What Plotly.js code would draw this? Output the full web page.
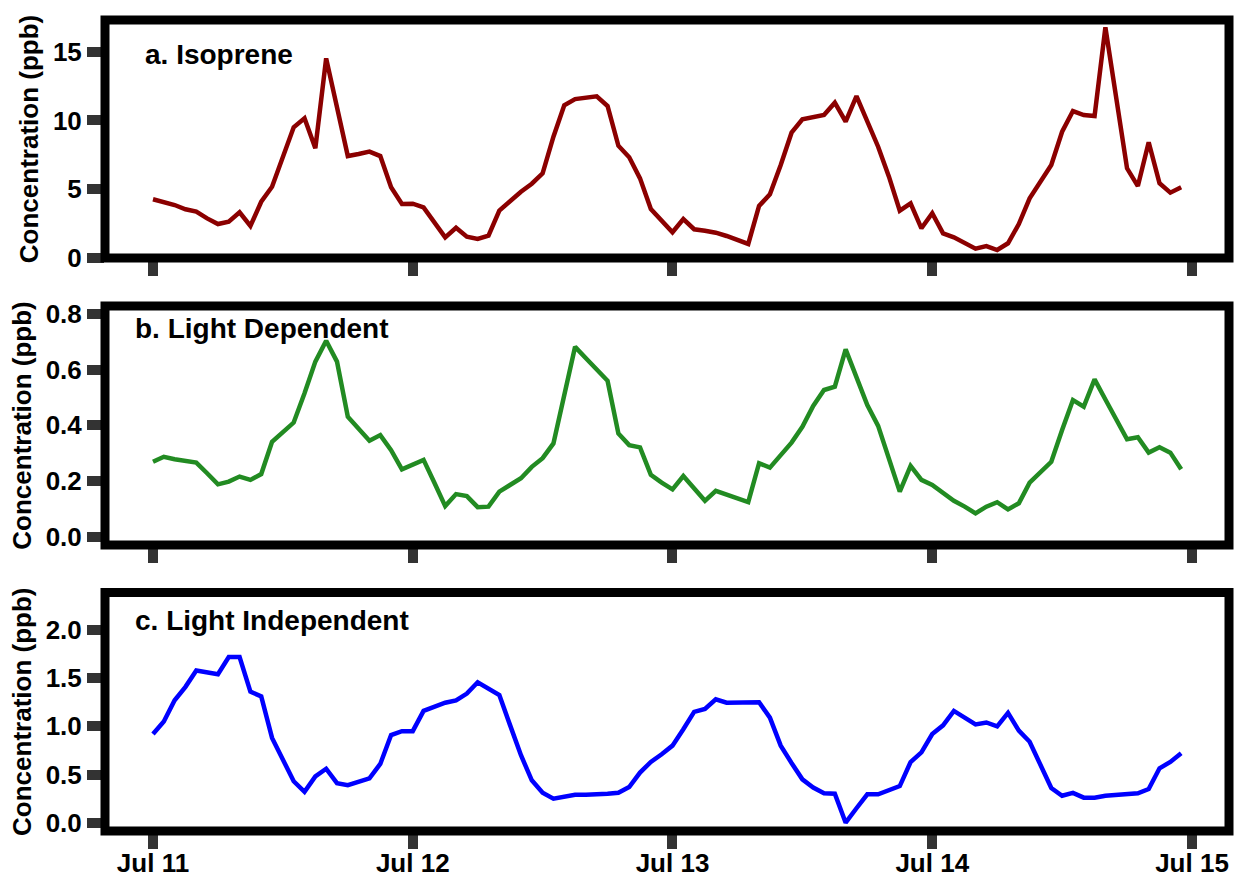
<!DOCTYPE html>
<html>
<head>
<meta charset="utf-8">
<script src="https://cdn.plot.ly/plotly-3.0.1.min.js"></script>
<style>html,body{margin:0;padding:0;background:#fff;}#chart{width:1235px;height:879px;}</style>
</head>
<body>
<div id="chart"></div>
<script>
// hours after Jul 11 00:00
const hours = [0,1,2,3,4,5,6,7,8,9,10,11,12,13,14,15,16,17,18,19,20,21,22,23,
  24,25,26,27,28,29,30,31,32,33,34,35,36,37,38,39,40,41,42,43,44,45,46,47,
  48,49,50,51,52,53,54,55,56,57,58,59,60,61,62,63,64,65,66,67,68,69,70,71,
  72,73,74,75,76,77,78,79,80,81,82,83,84,85,86,87,88,89,90,91,92,93,94,95];

const isoprene = [4.27,4.09,3.85,3.54,3.37,2.88,2.47,2.64,3.32,2.33,4.09,5.18,7.36,9.5,10.15,7.97,14.51,11.0,7.41,7.56,7.73,7.41,5.14,3.92,
  3.95,3.68,2.59,1.50,2.20,1.55,1.38,1.62,3.44,4.14,4.82,5.40,6.15,8.82,11.1,11.55,11.68,11.75,11.05,8.16,7.32,5.79,3.56,2.71,
  1.87,2.83,2.09,1.98,1.84,1.60,1.31,1.02,3.78,4.63,6.76,9.11,10.08,10.22,10.39,11.29,9.91,11.77,10.03,8.09,5.91,3.44,3.97,2.16,
  3.25,1.79,1.50,1.11,0.68,0.87,0.58,1.07,2.47,4.34,5.55,6.76,9.18,10.68,10.39,10.32,16.77,11.65,6.52,5.23,8.41,5.43,4.75,5.14];

const lightDependent = [0.269,0.287,0.278,0.273,0.266,0.228,0.188,0.198,0.216,0.204,0.225,0.341,0.377,0.41,0.515,0.629,0.704,0.629,0.431,0.389,0.345,0.365,0.311,0.242,
  0.26,0.276,0.194,0.110,0.153,0.146,0.106,0.108,0.162,0.186,0.21,0.251,0.282,0.335,0.509,0.682,0.641,0.599,0.56,0.371,0.329,0.321,0.222,0.194,
  0.170,0.218,0.174,0.129,0.165,0.152,0.138,0.124,0.264,0.248,0.293,0.338,0.395,0.47,0.527,0.539,0.673,0.573,0.473,0.398,0.282,0.162,0.254,0.204,
  0.186,0.156,0.129,0.108,0.084,0.108,0.124,0.098,0.12,0.194,0.233,0.269,0.383,0.491,0.467,0.565,0.493,0.422,0.35,0.357,0.302,0.321,0.302,0.242];

const lightIndependent = [0.92,1.05,1.27,1.41,1.58,1.56,1.54,1.72,1.72,1.36,1.31,0.88,0.65,0.43,0.32,0.48,0.56,0.41,0.39,0.43,0.46,0.61,0.91,0.95,
  0.95,1.16,1.20,1.245,1.27,1.34,1.457,1.39,1.325,1.01,0.70,0.44,0.31,0.25,0.27,0.29,0.29,0.29,0.30,0.31,0.37,0.52,0.63,0.71,
  0.80,0.97,1.15,1.18,1.28,1.245,1.25,1.25,1.25,1.09,0.80,0.62,0.45,0.365,0.305,0.30,0.0,0.15,0.295,0.295,0.34,0.38,0.63,0.73,
  0.92,1.01,1.16,1.09,1.02,1.04,1.00,1.14,0.955,0.84,0.60,0.36,0.28,0.31,0.26,0.26,0.28,0.29,0.305,0.305,0.35,0.565,0.63,0.72];

const panelLabels = ['a. Isoprene', 'b. Light Dependent', 'c. Light Independent'];
const xTickDays = ['2013-07-11', '2013-07-12', '2013-07-13', '2013-07-14', '2013-07-15'];

const DAY = 86400000, HOUR = 3600000;
const base = Date.UTC(2013, 6, 11);
const times = hours.map(h => base + h * HOUR);
const xTickVals = xTickDays.map(d => Date.parse(d + 'T00:00:00Z'));

const W_ = 1235, H_ = 879;
const L = 105, R = 6, T = 20, B = 48;
const PW = W_ - L - R, PH = H_ - T - B;
const dom = (top, bottom) => [(T + PH - bottom) / PH, (T + PH - top) / PH];
const px2x = px => (px - L) / PW;
const px2y = py => (T + PH - py) / PH;

const domA = dom(20, 258), domB = dom(306, 545), domC = dom(592.5, 831);
const xRange = [base - 0.18479 * DAY, base + 4.1425 * DAY];

const FONT = 'Liberation Sans, Arial, Helvetica, sans-serif';
const tickFont = {family: FONT, size: 26, color: '#000', weight: 700};

function xax(showLabels, anchor) {
  return {
    type: 'date', range: xRange, anchor: anchor, domain: [0, 1],
    tickmode: 'array', tickvals: xTickVals, tickformat: '%b %d',
    showticklabels: showLabels, ticks: 'outside', ticklen: 17, tickwidth: 10, tickcolor: '#333',
    ticklabelstandoff: -8,
    showgrid: false, zeroline: false, showline: false, tickfont: tickFont
  };
}
function yax(domain, range, dtick, fmt, anchor) {
  return {
    domain: domain, range: range, anchor: anchor, dtick: dtick, tick0: 0, tickformat: fmt,
    ticks: 'outside', ticklen: 17, tickwidth: 10, tickcolor: '#333',
    showgrid: false, zeroline: false, showline: false, tickfont: tickFont,
    title: {text: 'Concentration (ppb)', font: {family: FONT, size: 26, color: '#000', weight: 700}, standoff: 6}
  };
}

const traces = [
  {x: times, y: isoprene, xaxis: 'x', yaxis: 'y', mode: 'lines', line: {color: '#8B0000', width: 4.5}},
  {x: times, y: lightDependent, xaxis: 'x2', yaxis: 'y2', mode: 'lines', line: {color: '#228B22', width: 4.5}},
  {x: times, y: lightIndependent, xaxis: 'x3', yaxis: 'y3', mode: 'lines', line: {color: '#0000FF', width: 4.5}}
];

const frame = d => ({type: 'rect', xref: 'paper', yref: 'paper', x0: 0, x1: 1, y0: d[0], y1: d[1],
  line: {color: '#000', width: 9}, fillcolor: 'rgba(0,0,0,0)', layer: 'above'});

const annFont = {family: FONT, size: 28, color: '#000', weight: 700};
const layout = {
  width: W_, height: H_, showlegend: false,
  paper_bgcolor: '#fff', plot_bgcolor: '#fff',
  margin: {l: L, r: R, t: T, b: B, pad: 0},
  xaxis: xax(false, 'y'),
  xaxis2: xax(false, 'y2'),
  xaxis3: xax(true, 'y3'),
  yaxis: yax(domA, [0, 17.3], 5, 'd', 'x'),
  yaxis2: yax(domB, [-0.0298, 0.8287], 0.2, '.1f', 'x2'),
  yaxis3: yax(domC, [-0.0861, 2.389], 0.5, '.1f', 'x3'),
  shapes: [frame(domA), frame(domB), frame(domC)],
  annotations: [
    {text: panelLabels[0], xref: 'paper', yref: 'paper', x: px2x(143), y: px2y(54), xanchor: 'left', yanchor: 'middle', showarrow: false, font: annFont},
    {text: panelLabels[1], xref: 'paper', yref: 'paper', x: px2x(133), y: px2y(328), xanchor: 'left', yanchor: 'middle', showarrow: false, font: annFont},
    {text: panelLabels[2], xref: 'paper', yref: 'paper', x: px2x(133), y: px2y(620.5), xanchor: 'left', yanchor: 'middle', showarrow: false, font: annFont}
  ]
};

Plotly.newPlot('chart', traces, layout, {displayModeBar: false, staticPlot: true});
</script>
</body>
</html>
